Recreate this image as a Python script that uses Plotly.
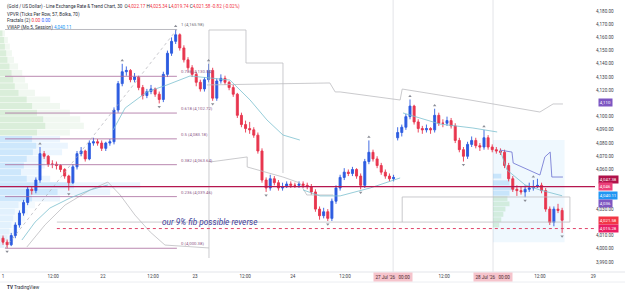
import plotly.graph_objects as go

# ---------------- candle data (hourly bars) ----------------
o21 = [4008,4005,4003,4010,4018,4027,4035,4045,4044,4052,4072,4070,4064,4064,4063,4060,4055,4050,4062,4072,4074,4068,4080,4081]
h21 = [4010,4007,4012,4020,4029,4037,4047,4047,4054,4077,4074,4071,4067,4066,4064,4061,4056,4064,4074,4077,4075,4082,4084,4083]
l21 = [4003,4000.38,4002,4008,4016,4025,4033,4041,4042,4050,4068,4062,4061,4060,4058,4053,4044,4049,4060,4070,4066,4067,4078,4078]
c21 = [4005,4003,4010,4018,4027,4035,4045,4044,4052,4072,4070,4064,4064,4063,4060,4055,4050,4062,4072,4074,4068,4080,4081,4080]

o22 = [4080,4076,4080,4081,4105,4125,4134,4135,4128,4130,4122,4116,4119,4121,4117,4113,4132,4148,4157,4162,4152,4143,4137,4132]
h22 = [4082,4081,4083,4107,4127,4140,4138,4136,4133,4131,4124,4121,4124,4122,4119,4134,4150,4160,4165.98,4163,4154,4145,4139,4134]
l22 = [4074,4074,4078,4079,4103,4123,4131,4126,4126,4120,4113,4114,4117,4115,4110,4111,4130,4146,4155,4150,4141,4135,4130,4123]
c22 = [4076,4080,4081,4105,4125,4134,4135,4128,4130,4122,4116,4119,4121,4117,4113,4132,4148,4157,4162,4152,4143,4137,4132,4126]

o23 = [4126,4121,4128,4135,4114,4127,4129,4126,4122,4117,4101,4094,4091,4090,4086,4074,4052,4046,4053,4050,4046,4047,4049,4048]
h23 = [4128,4130,4140,4137,4129,4132,4131,4127,4124,4118,4103,4097,4096,4092,4088,4076,4054,4056,4055,4052,4050,4051,4051,4050]
l23 = [4119,4119,4126,4112,4112,4125,4124,4120,4115,4099,4092,4088,4087,4084,4072,4050,4043,4044,4048,4044,4044,4046,4046,4046]
c23 = [4121,4128,4135,4114,4127,4129,4126,4122,4117,4101,4094,4091,4090,4086,4074,4052,4046,4053,4050,4046,4047,4049,4048,4048]

o24 = [4048,4049,4048,4047,4043,4030,4025,4028,4023,4036,4046,4054,4058,4057,4060,4055,4048,4066,4073,4068,4063,4058,4055,4053]
h24 = [4051,4051,4050,4049,4045,4032,4031,4030,4038,4048,4056,4061,4060,4062,4061,4057,4068,4082,4075,4070,4065,4060,4057,4056]
l24 = [4046,4046,4045,4041,4028,4022,4023,4021,4021,4034,4044,4052,4055,4055,4053,4045,4046,4064,4066,4061,4056,4053,4051,4051]
c24 = [4049,4048,4047,4043,4030,4025,4028,4023,4036,4046,4054,4058,4057,4060,4055,4048,4066,4073,4068,4063,4058,4055,4053,4054]

o27 = [4084,4088,4092,4100,4108,4096,4091,4090,4091,4090,4101,4095,4095,4097,4093,4082,4075,4070,4079,4082,4078,4077,4084,4077]
h27 = [4092,4094,4102,4113,4109,4098,4093,4094,4092,4106,4103,4098,4100,4099,4095,4084,4077,4081,4085,4084,4080,4090,4086,4079]
l27 = [4082,4085,4090,4098,4094,4088,4087,4088,4087,4088,4093,4092,4093,4091,4080,4073,4066,4068,4077,4076,4074,4075,4075,4073]
c27 = [4088,4092,4100,4108,4096,4091,4090,4091,4090,4101,4095,4095,4097,4093,4082,4075,4070,4079,4082,4078,4077,4084,4077,4075]

o28 = [4075,4074,4073,4063,4053,4045,4044,4043,4045,4046,4047,4048,4044,4030,4020,4030,4029]
h28 = [4077,4076,4075,4065,4055,4048,4047,4048,4050,4052,4053,4050,4046,4032,4032,4034,4031]
l28 = [4072,4071,4061,4051,4043,4040,4041,4039,4043,4044,4046,4042,4028,4018,4017,4027,4012]
c28 = [4074,4073,4063,4053,4045,4044,4043,4045,4046,4047,4048,4044,4030,4020,4030,4029,4021.58]

opens = o21 + o22 + o23 + o24 + o27 + o28
highs = h21 + h22 + h23 + h24 + h27 + h28
lows = l21 + l22 + l23 + l24 + l27 + l28
closes = c21 + c22 + c23 + c24 + c27 + c28
bar_idx = list(range(len(closes)))

# time axis
tick_pos = [0, 12.2, 24.3, 36.5, 46.7, 58.9, 70.5, 83.2, 94.9, 107.3, 119.2, 130.6, 143.6]
tick_txt = ["1", "12:00", "22", "12:00", "23", "12:00", "24", "12:00", "", "12:00", "", "12:00", "29"]
hl_pos = [94.9, 119.2]
hl_txt = ["27 Jul '26   00:00", "28 Jul '26   00:00"]

# price scale ticks (those hidden behind the coloured labels are left out, as in the picture)
price_ticks = [3990, 4000, 4010, 4030, 4060, 4070, 4080, 4090, 4100, 4120, 4130, 4140, 4150, 4160, 4170, 4180]

# fib retracement
fib_ratio = ["0", "0.236", "0.382", "0.5", "0.618", "0.786", "1"]
fib_price = [4000.38, 4039.46, 4063.64, 4083.18, 4102.72, 4130.54, 4165.98]
fib_x0, fib_x1 = 0.5, 42.3

# volume profile (left, visible range)
vp_price = [4163,4158,4153,4148,4143,4138,4133,4128,4123,4118,4113,4108,4103,4098,4093,4088,4083,
            4078,4073,4068,4063,4058,4053,4048,4043,4038,4033,4028,4023,4018,4013,4008,4003]
vp_total = [1.2,1.9,2.4,2.9,3.4,4.4,5.4,6.1,6.8,8.5,12.2,14.6,17.0,19.5,20.4,17.0,14.6,
            16.5,15.1,12.2,10.9,9.7,12.2,34.1,26.8,14.6,8.5,6.8,6.1,5.4,4.4,3.4,1.9]
vp_up = [0.6,1.0,1.2,1.5,1.8,2.3,2.8,3.2,3.6,4.5,6.5,7.8,9.0,10.5,11.0,9.0,7.8,
         8.8,8.0,6.5,5.8,5.1,6.5,18.0,14.0,7.8,4.5,3.6,3.2,2.8,2.3,1.8,1.0]

# session volume profile (right box)
svp_price = [4055,4050,4046,4042,4038,4034,4030,4026,4022,4018]
svp_total = [2.0,4.0,5.0,4.0,3.5,4.0,3.0,2.5,2.0,1.5]

# indicator lines
vwap_segments = [
    ([4.6, 7.8, 11.4, 16.3, 21.2, 25.5], [4006.6, 4020.2, 4030.8, 4038.4, 4044.5, 4048.3]),
    ([26.8, 29.7, 35.0, 39.9, 45.5, 55.2, 60.1, 64.2, 68.1, 72.2],
     [4089.9, 4106.5, 4118.7, 4124.0, 4130.8, 4127.7, 4112.6, 4097.5, 4086.1, 4082.3]),
    ([73.0, 77.1, 82.0, 89.3, 96.6], [4044.5, 4040.0, 4040.0, 4046.0, 4053.6]),
    ([97.3, 106.3, 114.3, 120.2], [4102.8, 4094.4, 4091.4, 4088.4]),
    ([120.9, 122.6, 127.0, 130.6, 136.0], [4074.7, 4059.6, 4048.3, 4044.5, 4040.11]),
]
gray_lines = [
    ([50.1, 50.1, 59.1, 59.1, 68.1, 68.1], [3993.0, 4165.6, 4165.6, 4140.6, 4140.6, 4057.3]),
    ([49.6, 68.1, 79.5, 80.8, 82.0, 96.6, 97.1, 113.6, 130.6, 133.8, 136.2],
     [4124.0, 4124.7, 4125.5, 4118.7, 4118.7, 4112.6, 4120.9, 4112.6, 4103.5, 4109.6, 4109.6]),
    ([50.4, 59.4, 59.4, 68.1, 72.2, 73.9, 80.3], [4065.7, 4069.5, 4061.9, 4054.3, 4049.8, 4040.7, 4040.7]),
    ([97.1, 97.1, 137.9, 137.9], [4020.2, 4039.2, 4039.2, 4020.2]),
    ([13.1, 137.9], [4020.2, 4020.2]),
    ([5.8, 10.2, 15.1, 21.2, 25.5, 28.5, 32.1, 35.8, 39.4, 50.1],
     [4001.3, 4018.0, 4033.1, 4044.5, 4050.5, 4040.7, 4025.5, 4012.7, 4002.8, 4000.6]),
]
purple_x = [120.9, 123.8, 124.1, 130.6, 131.8, 133.1, 133.5, 136.2]
purple_y = [4074.7, 4073.2, 4064.9, 4055.8, 4069.5, 4073.2, 4054.3, 4054.3]

red_level = 4047.0
dotted_level = 4015.28

fractal_hi = [9, 29, 42, 50, 89, 99, 105, 117, 129]
fractal_lo = [1, 16, 38, 51, 64, 79, 87, 112, 127, 136]

price_labels = [
    (4110.5, "4,110", "#7e57c2"),
    (4052.6, "4,047.38", "#b0124a"),
    (4046.9, "4,046", "#ec407a"),
    (4040.1, "4,040.11", "#2196f3"),
    (4034.3, "4,036", "#7e57c2"),
    (4021.3, "4,021.58", "#f23645"),
    (4015.0, "4,015.28", "#e91e63"),
]

# ---------------- figure ----------------
FONT = "Roboto"
fig = go.Figure()

# left VPVR
zone_col = []
zone_col_up = []
for p in vp_price:
    if p >= 4088:
        zone_col.append("rgba(165,214,167,0.16)"); zone_col_up.append("rgba(129,199,132,0.20)")
    elif p >= 4038:
        zone_col.append("rgba(144,202,249,0.18)"); zone_col_up.append("rgba(100,181,246,0.22)")
    else:
        zone_col.append("rgba(187,222,251,0.16)"); zone_col_up.append("rgba(144,202,249,0.18)")
fig.add_trace(go.Bar(orientation="h", y=vp_price, x=vp_total, base=-0.73, width=4.6,
                     marker=dict(color=zone_col, line=dict(width=0)), hoverinfo="skip", showlegend=False))
fig.add_trace(go.Bar(orientation="h", y=vp_price, x=vp_up, base=-0.73, width=4.6,
                     marker=dict(color=zone_col_up, line=dict(width=0)), hoverinfo="skip", showlegend=False))

# session box VP
svp_col = ["rgba(100,181,246,0.28)" if p >= 4042 else "rgba(129,199,132,0.26)" for p in svp_price]
fig.add_trace(go.Bar(orientation="h", y=svp_price, x=svp_total, base=119.2, width=3.6,
                     marker=dict(color=svp_col, line=dict(width=0)), hoverinfo="skip", showlegend=False))

# gray lines
for gx, gy in gray_lines:
    fig.add_trace(go.Scatter(x=gx, y=gy, mode="lines", line=dict(color="#bcbcc0", width=0.8),
                             hoverinfo="skip", showlegend=False))

# fib lines
for r, p in zip(fib_ratio, fib_price):
    col = "#a8a8b0" if r == "1" else "#a86a9c"
    fig.add_trace(go.Scatter(x=[fib_x0, fib_x1], y=[p, p], mode="lines",
                             line=dict(color=col, width=0.8), hoverinfo="skip", showlegend=False))
# fib trend (dashed)
fig.add_trace(go.Scatter(x=[fib_x0, fib_x1], y=[fib_price[0], fib_price[-1]], mode="lines",
                         line=dict(color="#b0b0b8", width=0.7, dash="dot"), hoverinfo="skip", showlegend=False))

# VWAP
for vx, vy in vwap_segments:
    fig.add_trace(go.Scatter(x=vx, y=vy, mode="lines", line=dict(color="#7cc0cf", width=0.8),
                             hoverinfo="skip", showlegend=False))
fig.add_trace(go.Scatter(x=purple_x, y=purple_y, mode="lines", line=dict(color="#6a6fd0", width=0.8),
                         hoverinfo="skip", showlegend=False))

# red level and dotted level
fig.add_trace(go.Scatter(x=[-0.73, 144], y=[red_level, red_level], mode="lines",
                         line=dict(color="#b5174f", width=1.1), hoverinfo="skip", showlegend=False))
fig.add_trace(go.Scatter(x=[13.1, 144], y=[dotted_level, dotted_level], mode="lines",
                         line=dict(color="#e0446a", width=1, dash="dot"), hoverinfo="skip", showlegend=False))

# candles
fig.add_trace(go.Candlestick(
    x=bar_idx, open=opens, high=highs, low=lows, close=closes,
    increasing=dict(line=dict(color="#2c5be0", width=0.9), fillcolor="#2c5be0"),
    decreasing=dict(line=dict(color="#e8364e", width=0.9), fillcolor="#e8364e"),
    whiskerwidth=0, hoverinfo="skip", showlegend=False))

# fractals
fig.add_trace(go.Scatter(x=fractal_hi, y=[highs[i] + 2.5 for i in fractal_hi], mode="markers",
                         marker=dict(symbol="triangle-up", size=3, color="#8a8d96"),
                         hoverinfo="skip", showlegend=False))
fig.add_trace(go.Scatter(x=fractal_lo, y=[lows[i] - 2.5 for i in fractal_lo], mode="markers",
                         marker=dict(symbol="triangle-down", size=3, color="#8a8d96"),
                         hoverinfo="skip", showlegend=False))

shapes = []
# session box background
shapes.append(dict(type="rect", xref="x", yref="y", x0=119.2, x1=136.6, y0=4005, y1=4082.3,
                   fillcolor="rgba(33,150,243,0.07)", line=dict(width=0), layer="below"))
# day separators
for xv in hl_pos:
    shapes.append(dict(type="line", xref="x", yref="paper", x0=xv, x1=xv, y0=0, y1=1,
                       line=dict(color="#dcdde2", width=0.8), layer="below"))
# time-axis borders
shapes.append(dict(type="line", xref="paper", yref="paper", x0=0, x1=1.06, y0=0, y1=0,
                   line=dict(color="#e3e5ea", width=1)))
shapes.append(dict(type="line", xref="paper", yref="paper", x0=0, x1=1.06, y0=-10/272, y1=-10/272,
                   line=dict(color="#eceef2", width=1)))

ann = []
# fib labels
for r, p in zip(fib_ratio, fib_price):
    col = "#6b6b72" if r == "1" else "#8e5a88"
    ann.append(dict(x=42.8, y=p, xref="x", yref="y", text=f"{r} ({p:,.2f})", showarrow=False,
                    xanchor="left", yanchor="bottom", yshift=0,
                    font=dict(family=FONT, size=4.3, color=col)))
# the note
ann.append(dict(x=38.2, y=4020.2, xref="x", yref="y", text="<i>our 9% fib possible reverse</i>",
                showarrow=False, xanchor="left", yanchor="middle",
                font=dict(family=FONT, size=8.3, color="#3f3f9a")))
# header
hdr = ("(Gold / US Dollar) - Line Exchange Rate &amp; Trend Chart, 30  "
       "O<span style='color:#f23645'>4,022.17</span> H<span style='color:#f23645'>4,025.34</span> "
       "L<span style='color:#f23645'>4,019.74</span> C<span style='color:#f23645'>4,021.58</span> "
       "<span style='color:#f23645'>-0.82 (-0.02%)</span>")
hdr_lines = [
    (6, hdr),
    (14.5, "VPVR (Ticks Per Row, 57, Bolka, 70)"),
    (21, "Fractals (2) <span style='color:#f23645'>0.00</span> <span style='color:#2962ff'>0.00</span>"),
    (27.5, "VWAP (Mo.5, Session) <span style='color:#2196f3'>4,040.11</span>"),
]
for ypx, t in hdr_lines:
    ann.append(dict(x=5/595, y=1 - ypx/272, xref="paper", yref="paper", text=t, showarrow=False,
                    xanchor="left", yanchor="middle", font=dict(family=FONT, size=4.6, color="#2a2e39")))
# highlighted date labels
for xv, t in zip(hl_pos, hl_txt):
    ann.append(dict(x=xv, y=1 - 277/272, xref="x", yref="paper", text=t, showarrow=False,
                    xanchor="center", yanchor="middle", bgcolor="#f6c4cc", borderpad=1.5,
                    font=dict(family=FONT, size=4.6, color="#4a2a30")))
# price labels on the scale
for p, t, col in price_labels:
    ann.append(dict(x=1, y=p, xref="paper", yref="y", text=t, showarrow=False, xanchor="left",
                    yanchor="middle", xshift=3, bgcolor=col, borderpad=0.8,
                    font=dict(family=FONT, size=4.3, color="white")))
# logo
ann.append(dict(x=5/595, y=1 - 287/272, xref="paper", yref="paper",
                text="<b>TV</b> TradingView", showarrow=False, xanchor="left", yanchor="middle",
                font=dict(family=FONT, size=4.6, color="#2a2e39")))

fig.update_layout(
    width=625, height=294,
    margin=dict(l=0, r=30, t=0, b=22),
    paper_bgcolor="white", plot_bgcolor="white",
    barmode="overlay",
    shapes=shapes, annotations=ann,
    showlegend=False,
    xaxis=dict(range=[-0.73, 144], tickvals=tick_pos, ticktext=tick_txt, showgrid=False,
               zeroline=False, showline=False, ticks="", rangeslider=dict(visible=False),
               tickfont=dict(family=FONT, size=4.6, color="#3a3e48")),
    yaxis=dict(range=[3982.4, 4188.3], side="right", tickvals=price_ticks,
               tickformat=",.2f", showgrid=False, zeroline=False, showline=False, ticks="",
               tickfont=dict(family=FONT, size=4.6, color="#3a3e48")),
)

fig.write_html("out.html")
